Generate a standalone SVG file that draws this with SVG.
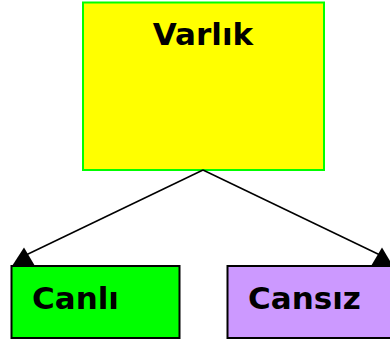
<svg xmlns="http://www.w3.org/2000/svg" width="390" height="342" viewBox="0 0 390 342">
<style>
.box{stroke-width:2}
.lbl{font-family:"DejaVu Sans",Verdana,sans-serif;font-weight:bold;font-size:31px;fill:#000}
.conn{stroke:#000;stroke-width:1.5;fill:none}
.head{fill:#000}
</style>
<rect width="390" height="342" fill="#fff"/>
<g id="varlik">
<rect class="box" x="83" y="2.5" width="241" height="167.5" fill="#ffff00" stroke="#00ff00"/>
<text class="lbl" x="203" y="44.5" text-anchor="middle">Varlık</text>
</g>
<g id="canli">
<rect class="box" x="11.5" y="266" width="168" height="72" fill="#00ff00" stroke="#000"/>
<text class="lbl" x="32" y="308.5">Canlı</text>
</g>
<g id="cansiz">
<rect class="box" x="227.5" y="266" width="170" height="72" fill="#cc99ff" stroke="#000"/>
<text class="lbl" x="248" y="308.5">Cansız</text>
</g>
<g id="connectors">
<line class="conn" x1="203" y1="170" x2="26" y2="255"/>
<line class="conn" x1="203" y1="170" x2="380" y2="255"/>
<polygon class="head" points="24,247.5 12,266 35,266"/>
<polygon class="head" points="382,247.5 371,266 393,266"/>
</g>
</svg>
